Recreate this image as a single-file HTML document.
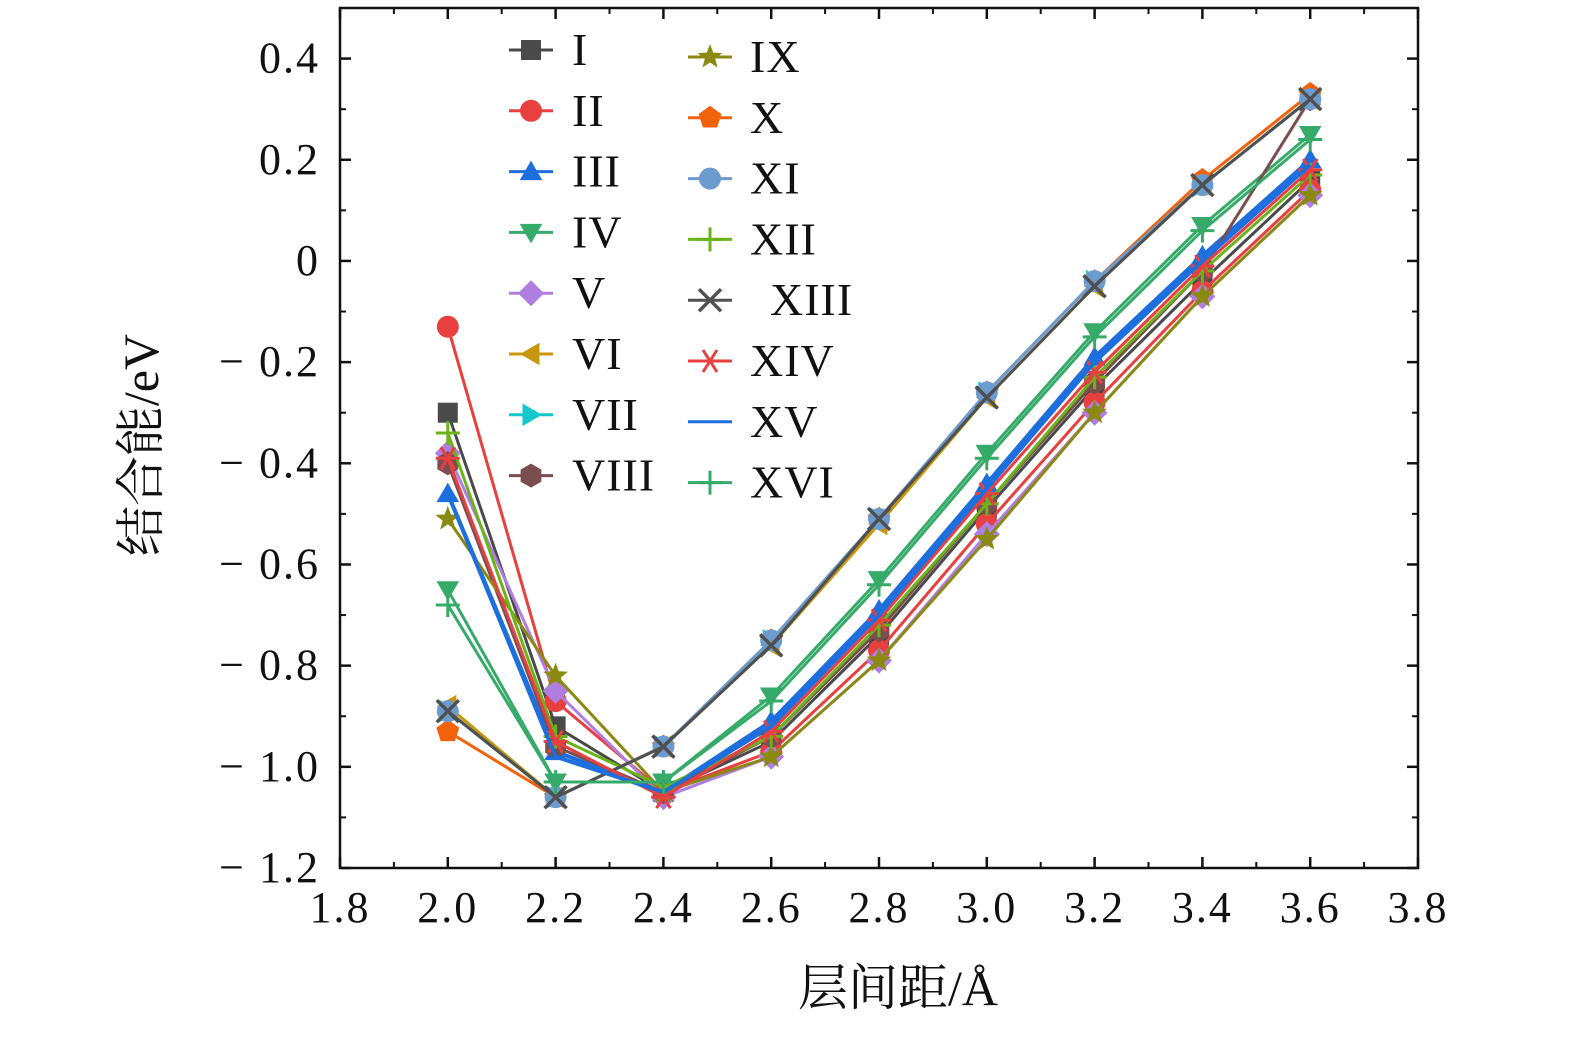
<!DOCTYPE html>
<html><head><meta charset="utf-8"><style>
body{margin:0;background:#fff}
svg text{font-family:"Liberation Serif","Noto Serif CJK SC",serif;fill:#111}
</style></head><body>
<svg id="chart" width="1575" height="1033" viewBox="0 0 1575 1033" xmlns="http://www.w3.org/2000/svg"></svg>
<script>
const xValues=[2.0,2.2,2.4,2.6,2.8,3.0,3.2,3.4,3.6];
const seriesNames=["I","II","III","IV","V","VI","VII","VIII","IX","X","XI","XII","XIII","XIV","XV","XVI"];
const sI=[-0.30,-0.92,-1.05,-0.95,-0.74,-0.49,-0.25,-0.04,0.16];
const sII=[-0.13,-0.87,-1.05,-0.97,-0.77,-0.52,-0.28,-0.06,0.14];
const sIII=[-0.46,-0.97,-1.05,-0.91,-0.69,-0.44,-0.19,0.01,0.20];
const sIV=[-0.65,-1.03,-1.03,-0.86,-0.63,-0.38,-0.14,0.07,0.25];
const sV=[-0.38,-0.85,-1.06,-0.98,-0.79,-0.54,-0.30,-0.07,0.13];
const sVI=[-0.88,-1.06,-0.96,-0.76,-0.52,-0.27,-0.05,0.15,0.32];
const sVII=[-0.89,-1.06,-0.96,-0.75,-0.51,-0.26,-0.04,0.15,0.32];
const sVIII=[-0.40,-0.96,-1.05,-0.94,-0.73,-0.48,-0.24,-0.02,0.32];
const sIX=[-0.51,-0.82,-1.05,-0.98,-0.79,-0.55,-0.30,-0.07,0.13];
const sX=[-0.93,-1.06,-0.96,-0.75,-0.51,-0.26,-0.04,0.16,0.33];
const sXI=[-0.89,-1.06,-0.96,-0.75,-0.51,-0.26,-0.04,0.15,0.32];
const sXII=[-0.34,-0.94,-1.04,-0.94,-0.72,-0.48,-0.23,-0.02,0.17];
const sXIII=[-0.89,-1.06,-0.96,-0.76,-0.51,-0.27,-0.05,0.15,0.32];
const sXIV=[-0.39,-0.95,-1.06,-0.93,-0.71,-0.46,-0.22,-0.01,0.18];
const sXV=[-0.46,-0.98,-1.05,-0.92,-0.70,-0.45,-0.20,0.00,0.19];
const sXVI=[-0.68,-1.03,-1.03,-0.87,-0.64,-0.39,-0.15,0.06,0.24];
const xTicks=["1.8","2.0","2.2","2.4","2.6","2.8","3.0","3.2","3.4","3.6","3.8"];
const yTicks=["0.4","0.2","0","−0.2","−0.4","−0.6","−0.8","−1.0","−1.2"];
const allSeries=[sI,sII,sIII,sIV,sV,sVI,sVII,sVIII,sIX,sX,sXI,sXII,sXIII,sXIV,sXV,sXVI];
const colors=["#4a4a4a","#e8403f","#1e6fde","#36ab69","#b07ee0","#c8960a","#12c8cc","#7a4e4e","#8a8a12","#f2620a","#6b9bcf","#6ab41a","#505050","#e84040","#1e6fde","#36ab69"];
const markers=["square","circle","up","down","diamond","left","right","hex","star","pent","circle","plus","x","ast","none","plus"];
const NS="http://www.w3.org/2000/svg";
const svg=document.getElementById('chart');
const L=340,R=1418,T=8,B=868;
const X=v=>L+(v-1.8)/2.0*(R-L);
const Y=v=>B-(v+1.2)/1.7*(B-T);
function mk(tag,attrs,parent){const e=document.createElementNS(NS,tag);for(const k in attrs)e.setAttribute(k,attrs[k]);(parent||svg).appendChild(e);return e;}
function poly(n,r,rot,cx,cy){let p=[];for(let i=0;i<n;i++){const a=rot+i*2*Math.PI/n;p.push((cx+r*Math.cos(a)).toFixed(1)+","+(cy+r*Math.sin(a)).toFixed(1));}return p.join(" ");}
function marker(g,type,cx,cy,c){
 const s=11;
 if(type==="square")mk('rect',{x:cx-s+1,y:cy-s+1,width:2*s-2,height:2*s-2,fill:c},g);
 else if(type==="circle")mk('circle',{cx,cy,r:s,fill:c},g);
 else if(type==="up")mk('polygon',{points:poly(3,13,-Math.PI/2,cx,cy+2),fill:c},g);
 else if(type==="down")mk('polygon',{points:poly(3,13,Math.PI/2,cx,cy-2),fill:c},g);
 else if(type==="left")mk('polygon',{points:poly(3,13,Math.PI,cx+2,cy),fill:c},g);
 else if(type==="right")mk('polygon',{points:poly(3,13,0,cx-2,cy),fill:c},g);
 else if(type==="diamond")mk('polygon',{points:poly(4,13,0,cx,cy),fill:c},g);
 else if(type==="hex")mk('polygon',{points:poly(6,12,Math.PI/2,cx,cy),fill:c},g);
 else if(type==="pent")mk('polygon',{points:poly(5,12,-Math.PI/2,cx,cy),fill:c},g);
 else if(type==="star"){let p=[];for(let i=0;i<10;i++){const r=i%2?5.5:13,a=-Math.PI/2+i*Math.PI/5;p.push((cx+r*Math.cos(a)).toFixed(1)+","+(cy+r*Math.sin(a)).toFixed(1));}mk('polygon',{points:p.join(" "),fill:c},g);}
 else if(type==="plus"){mk('path',{d:`M${cx-12} ${cy}H${cx+12}M${cx} ${cy-12}V${cy+12}`,stroke:c,'stroke-width':3},g);}
 else if(type==="x"){mk('path',{d:`M${cx-11} ${cy-11}L${cx+11} ${cy+11}M${cx+11} ${cy-11}L${cx-11} ${cy+11}`,stroke:c,'stroke-width':3.5},g);}
 else if(type==="ast"){mk('path',{d:`M${cx-12} ${cy}H${cx+12}M${cx-7} ${cy-11}L${cx+7} ${cy+11}M${cx+7} ${cy-11}L${cx-7} ${cy+11}`,stroke:c,'stroke-width':3},g);}
}
const frame=mk('rect',{x:L,y:T,width:R-L,height:B-T,fill:'none',stroke:'#111','stroke-width':2.5});


xTicks.forEach((t,i)=>{const v=1.8+i*0.2,x=X(v);
 mk('line',{x1:x,y1:B,x2:x,y2:B-11,stroke:'#111','stroke-width':2.5});
 mk('line',{x1:x,y1:T,x2:x,y2:T+11,stroke:'#111','stroke-width':2.5});
 if(i<xTicks.length-1){const xm=X(v+0.1);mk('line',{x1:xm,y1:B,x2:xm,y2:B-6,stroke:'#111','stroke-width':2});mk('line',{x1:xm,y1:T,x2:xm,y2:T+6,stroke:'#111','stroke-width':2});}
 const tx=mk('text',{x:x,y:922,'font-size':44,'letter-spacing':2,'text-anchor':'middle'});tx.textContent=t;
 
 
});
yTicks.forEach((t,i)=>{const v=0.4-i*0.2,y=Y(v);
 mk('line',{x1:L,y1:y,x2:L+11,y2:y,stroke:'#111','stroke-width':2.5});
 mk('line',{x1:R,y1:y,x2:R-11,y2:y,stroke:'#111','stroke-width':2.5});
 const ym=Y(v+0.1);if(ym>T){mk('line',{x1:L,y1:ym,x2:L+6,y2:ym,stroke:'#111','stroke-width':2});mk('line',{x1:R,y1:ym,x2:R-6,y2:ym,stroke:'#111','stroke-width':2});}
 const tx=mk('text',{x:320,y:y+14,'font-size':44,'letter-spacing':2,'text-anchor':'end'});tx.textContent=t.replace('−','−  ');
 
 
});
const yt=mk('text',{x:0,y:0,'font-size':50,'text-anchor':'middle',transform:'translate(158,445) rotate(-90)'});yt.textContent='结合能/eV';


const xt=mk('text',{x:898,y:1005,'font-size':50,'text-anchor':'middle'});xt.textContent='层间距/Å';


allSeries.forEach((s,k)=>{
 const g=mk('g',{});
 
 
 const pts=s.map((v,i)=>X(xValues[i]).toFixed(1)+","+Y(v).toFixed(1)).join(" ");
 mk('polyline',{points:pts,fill:'none',stroke:colors[k],'stroke-width':(k===2||k===14)?4:3},g);
 s.forEach((v,i)=>marker(g,markers[k],X(xValues[i]),Y(v),colors[k]));
});
const lg=mk('g',{});


seriesNames.forEach((n,k)=>{
 const col=k<8?0:1,row=k%8;
 const mx=col?710:531,y=(col?57:50)+row*60.8,tx=col?750:572;
 const e=mk('g',{},lg);
 
 
 mk('line',{x1:mx-22,y1:y,x2:mx+22,y2:y,stroke:colors[k],'stroke-width':3},e);
 marker(e,markers[k],mx,y,colors[k]);
 const t=mk('text',{x:n==='XIII'?tx+20:tx,y:y+15,'font-size':46,'letter-spacing':1},e);t.textContent=n;
});
</script>
</body></html>
